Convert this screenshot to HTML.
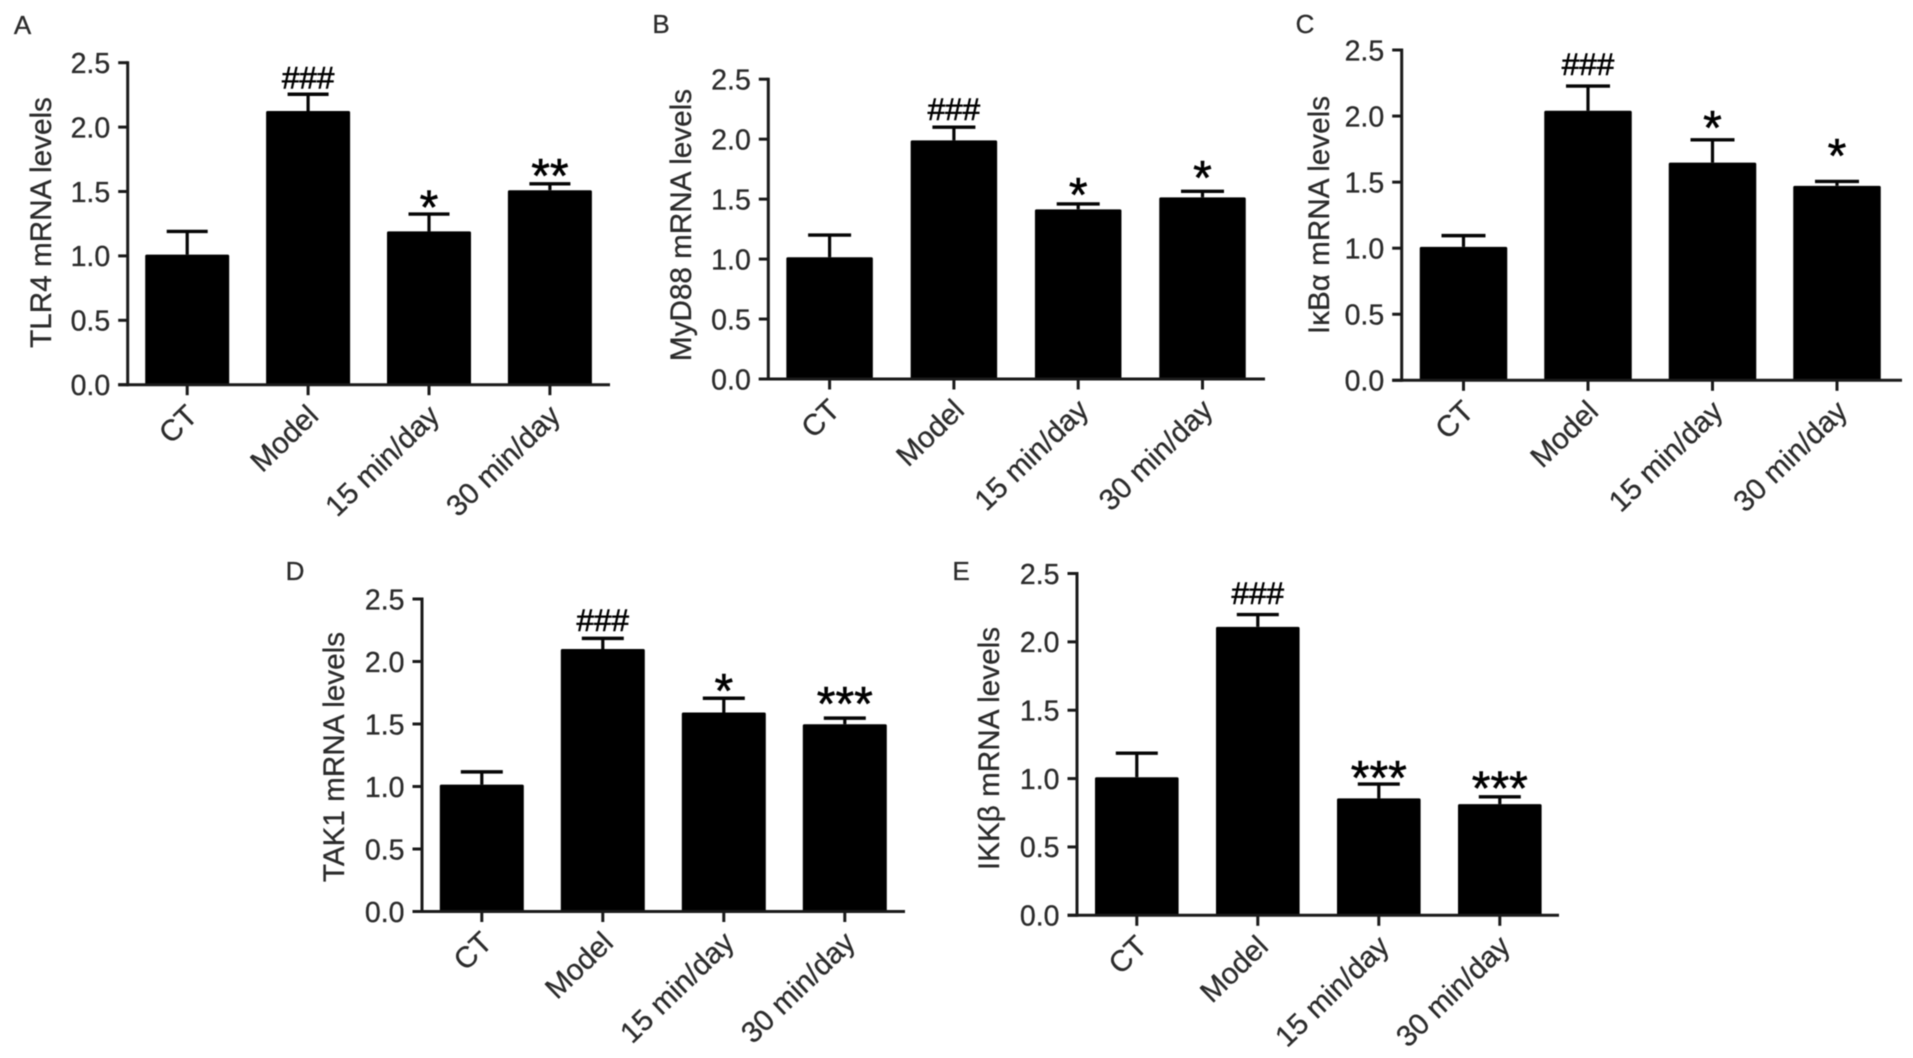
<!DOCTYPE html>
<html lang="en">
<head>
<meta charset="utf-8">
<title>mRNA levels bar charts</title>
<style>
  html, body { margin: 0; padding: 0; background: #fff; }
  body { width: 1913px; height: 1058px; overflow: hidden; }
  svg { display: block; filter: blur(0.6px); }
  text { font-family: "Liberation Sans", "DejaVu Sans", sans-serif; fill: #2b2b2b; stroke: #2b2b2b; stroke-width: 0.3px; }
  text.sig { fill: #000; stroke: #000; stroke-width: 0.6px; }
</style>
</head>
<body>
<svg id="figure" xmlns="http://www.w3.org/2000/svg" width="1913" height="1058" viewBox="0 0 1913 1058"></svg>
<script>
// Shared axis content
const categories = ['CT', 'Model', '15 min/day', '30 min/day'];
const tickValues = [0, 0.5, 1, 1.5, 2, 2.5];
const tickLabels = ['0.0', '0.5', '1.0', '1.5', '2.0', '2.5'];

// Panel A: TLR4
const tlr4Values = [1.01, 2.125, 1.19, 1.51];
const tlr4ErrorTops = [1.19, 2.255, 1.325, 1.56];
const tlr4Marks = ['', '###', '*', '**'];
const tlr4MarkGaps = [0, 0.13, 0.09, 0.1];

// Panel B: MyD88
const myd88Values = [1.015, 1.99, 1.415, 1.515];
const myd88ErrorTops = [1.2, 2.1, 1.46, 1.565];
const myd88Marks = ['', '###', '*', '*'];
const myd88MarkGaps = [0, 0.15, 0.118, 0.154];

// Panel C: IkBa
const ikbaValues = [1.01, 2.04, 1.648, 1.472];
const ikbaErrorTops = [1.095, 2.227, 1.82, 1.505];
const ikbaMarks = ['', '###', '*', '*'];
const ikbaMarkGaps = [0, 0.168, 0.127, 0.23];

// Panel D: TAK1
const tak1Values = [1.015, 2.1, 1.592, 1.498];
const tak1ErrorTops = [1.117, 2.185, 1.706, 1.547];
const tak1Marks = ['', '###', '*', '***'];
const tak1MarkGaps = [0, 0.148, 0.1, 0.153];

// Panel E: IKKb
const ikkbValues = [1.01, 2.11, 0.855, 0.813];
const ikkbErrorTops = [1.186, 2.2, 0.96, 0.867];
const ikkbMarks = ['', '###', '***', '***'];
const ikkbMarkGaps = [0, 0.158, 0.082, 0.096];

const SVG_NS = 'http://www.w3.org/2000/svg';
const figure = document.getElementById('figure');

function line(parent, x1, y1, x2, y2, width, color) {
  const el = document.createElementNS(SVG_NS, 'line');
  el.setAttribute('x1', x1);
  el.setAttribute('y1', y1);
  el.setAttribute('x2', x2);
  el.setAttribute('y2', y2);
  el.setAttribute('stroke', color);
  el.setAttribute('stroke-width', width);
  parent.appendChild(el);
  return el;
}

function label(parent, content, x, y, size, anchor, transform) {
  const el = document.createElementNS(SVG_NS, 'text');
  el.setAttribute('x', x);
  el.setAttribute('y', y);
  el.setAttribute('font-size', size);
  el.setAttribute('text-anchor', anchor);
  if (transform) el.setAttribute('transform', transform);
  el.textContent = content;
  parent.appendChild(el);
  return el;
}

function drawPanel(p) {
  const g = document.createElementNS(SVG_NS, 'g');
  
  
  figure.appendChild(g);

  const yScale = v => p.y0 - (v / 2.5) * (p.y0 - p.yTop);
  const xScale = i => p.firstCenter + i * p.spacing;

  // panel letter
  const letter = label(g, p.letter, p.letterX, p.letterY, 26, 'middle');
  
  

  // y-axis title
  const title = label(g, p.title, p.titleX, p.titleY, 29.7, 'middle',
    'rotate(-90 ' + p.titleX + ' ' + p.titleY + ')');
  
  

  // bars, error bars, significance marks
  p.values.forEach((v, i) => {
    const cx = xScale(i);
    const bar = document.createElementNS(SVG_NS, 'rect');
    bar.setAttribute('x', cx - p.barWidth / 2);
    bar.setAttribute('y', yScale(v));
    bar.setAttribute('width', p.barWidth);
    bar.setAttribute('height', p.y0 - yScale(v));
    bar.setAttribute('rx', 1.5);
    bar.setAttribute('fill', '#000');
    
    
    g.appendChild(bar);

    const top = yScale(p.errorTops[i]);
    const stem = line(g, cx, yScale(v), cx, top, 3.2, '#050505');
    
    
    const cap = line(g, cx - p.capWidth / 2, top, cx + p.capWidth / 2, top, 3.4, '#050505');
    
    

    const tick = line(g, cx, p.y0, cx, p.y0 + 10.5, 3, '#1a1a1a');
    
    

    const ax = cx + 12, ay = p.y0 + 33;
    const cat = label(g, categories[i], ax, ay, 29.5, 'end', 'rotate(-44 ' + ax + ' ' + ay + ')');
    
    

    const markText = p.marks[i];
    if (markText) {
      const centerY = yScale(p.errorTops[i] + p.markGaps[i]);
      const isHash = markText[0] === '#';
      const my = centerY + (isHash ? 11 : 21);
      const mark = label(g, markText, cx, my, isHash ? 31.5 : 48, 'middle');
      mark.setAttribute('class', 'sig');
      
      
    }
  });

  // axes
  const yAxis = line(g, p.axisX, p.yTop - 1.5, p.axisX, p.y0 + 1.5, 3, '#1a1a1a');
  
  
  const xAxis = line(g, p.axisX - 9.5, p.y0, p.xRight, p.y0, 3, '#1a1a1a');
  
  

  tickValues.forEach((t, i) => {
    const y = yScale(t);
    const tick = line(g, p.axisX - 9.5, y, p.axisX, y, 3, '#1a1a1a');
    
    
    const tl = label(g, tickLabels[i], p.axisX - 17.5, y + 10.3, 28.5, 'end');
    
    
  });
}

drawPanel({ letter: 'A', letterX: 22.5, letterY: 34, title: 'TLR4 mRNA levels', titleX: 51, titleY: 222.5,
  axisX: 127.7, y0: 384.7, yTop: 62.7, xRight: 610, firstCenter: 187.2, spacing: 120.9, barWidth: 84, capWidth: 41,
  values: tlr4Values, errorTops: tlr4ErrorTops, marks: tlr4Marks, markGaps: tlr4MarkGaps });

drawPanel({ letter: 'B', letterX: 661, letterY: 33, title: 'MyD88 mRNA levels', titleX: 691, titleY: 225,
  axisX: 768.3, y0: 379, yTop: 79.2, xRight: 1265, firstCenter: 829.6, spacing: 124.3, barWidth: 86.5, capWidth: 43,
  values: myd88Values, errorTops: myd88ErrorTops, marks: myd88Marks, markGaps: myd88MarkGaps });

drawPanel({ letter: 'C', letterX: 1305, letterY: 33, title: 'I\u03BAB\u03B1 mRNA levels', titleX: 1329, titleY: 215,
  axisX: 1401.7, y0: 380.3, yTop: 50, xRight: 1902, firstCenter: 1463.5, spacing: 124.5, barWidth: 87.5, capWidth: 44,
  values: ikbaValues, errorTops: ikbaErrorTops, marks: ikbaMarks, markGaps: ikbaMarkGaps });

drawPanel({ letter: 'D', letterX: 295, letterY: 580, title: 'TAK1 mRNA levels', titleX: 344, titleY: 757,
  axisX: 422, y0: 911.5, yTop: 599, xRight: 905, firstCenter: 481.8, spacing: 121, barWidth: 84, capWidth: 42,
  values: tak1Values, errorTops: tak1ErrorTops, marks: tak1Marks, markGaps: tak1MarkGaps });

drawPanel({ letter: 'E', letterX: 961, letterY: 580, title: 'IKK\u03B2 mRNA levels', titleX: 999, titleY: 748.5,
  axisX: 1077, y0: 915.3, yTop: 573.5, xRight: 1559, firstCenter: 1136.8, spacing: 121, barWidth: 83.6, capWidth: 42,
  values: ikkbValues, errorTops: ikkbErrorTops, marks: ikkbMarks, markGaps: ikkbMarkGaps });
</script>
</body>
</html>
